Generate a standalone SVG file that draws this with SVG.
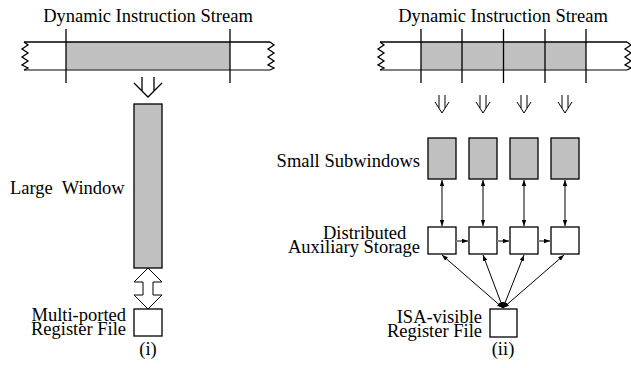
<svg xmlns="http://www.w3.org/2000/svg" width="631" height="368" viewBox="0 0 631 368">
<style>
text{font-family:'Liberation Serif','Times New Roman','DejaVu Serif',serif;font-size:18.5px;fill:#000}
.mid{text-anchor:middle}
.end{text-anchor:end}
.ln{stroke:#000;stroke-width:1.3;fill:none}
.bot{stroke:#555;stroke-width:1.5;fill:none}
.gray{fill:#c0c0c0;stroke:#000;stroke-width:1.3}
.box{fill:#fff;stroke:#000;stroke-width:1.3}
.hollow{fill:#fff;stroke:#000;stroke-width:1}
.garrow{stroke:#808080;stroke-width:2;fill:none}
.fan{stroke:#000;stroke-width:1;fill:none}
</style>
<defs>
<marker id="ah" viewBox="0 0 8 6" refX="8" refY="3" markerWidth="6" markerHeight="5" markerUnits="userSpaceOnUse" orient="auto-start-reverse">
<path d="M0,0 L8,3 L0,6 z" fill="#000"/>
</marker>
</defs>

<g font-family="Liberation Serif, Times New Roman, serif">
<!-- Left panel -->
<g id="stream-left">
<text class="mid" x="148" y="22">Dynamic Instruction Stream</text>
<rect x="66" y="42" width="164" height="28" fill="#c0c0c0"/>
<line class="ln" x1="24" y1="42" x2="270" y2="42"/>
<line class="bot" x1="24" y1="70" x2="270" y2="70"/>
<path class="ln" d="M24,42 L28,45 L22,49 L28,53 L22,57 L28,61 L22,65 L28,68 L24,70"/>
<path class="ln" d="M270,42 L274,45 L268,49 L274,53 L268,57 L274,61 L268,65 L274,68 L270,70"/>
<line class="ln" x1="66" y1="29" x2="66" y2="83"/>
<line class="ln" x1="230" y1="29" x2="230" y2="83"/>
</g>
<g id="large-window">
<rect class="gray" x="134" y="104" width="28" height="164"/>
<text x="10" y="194" style="white-space:pre">Large  Window</text>
</g>
<g id="regfile-left">
<rect class="box" x="134" y="309" width="28" height="27"/>
<text class="end" x="126" y="321">Multi-ported</text>
<text class="end" x="126" y="335">Register File</text>
</g>
<text class="mid" x="148" y="355">(i)</text>

<!-- Right panel -->
<g id="stream-right">
<text class="mid" x="503" y="22">Dynamic Instruction Stream</text>
<rect x="421" y="42" width="165" height="28" fill="#c0c0c0"/>
<line class="ln" x1="380" y1="42" x2="627" y2="42"/>
<line class="bot" x1="380" y1="70" x2="627" y2="70"/>
<path class="ln" d="M380,42 L384,45 L378,49 L384,53 L378,57 L384,61 L378,65 L384,68 L380,70"/>
<path class="ln" d="M627,42 L631,45 L625,49 L631,53 L625,57 L631,61 L625,65 L631,68 L627,70"/>
<line class="ln" x1="421" y1="29" x2="421" y2="83"/>
<line class="ln" x1="462" y1="29" x2="462" y2="83"/>
<line class="ln" x1="503.5" y1="29" x2="503.5" y2="83"/>
<line class="ln" x1="545" y1="29" x2="545" y2="83"/>
<line class="ln" x1="586" y1="29" x2="586" y2="83"/>
</g>
<g id="subwindows">
<rect class="gray" x="428" y="138" width="28" height="41"/>
<rect class="gray" x="469" y="138" width="28" height="41"/>
<rect class="gray" x="510" y="138" width="28" height="41"/>
<rect class="gray" x="551" y="138" width="28" height="41"/>
<text class="end" x="420" y="167">Small Subwindows</text>
</g>
<g id="aux-storage">
<rect class="box" x="428" y="227" width="28" height="27"/>
<rect class="box" x="469" y="227" width="28" height="27"/>
<rect class="box" x="510" y="227" width="28" height="27"/>
<rect class="box" x="551" y="227" width="28" height="27"/>
<text x="323" y="239">Distributed</text>
<text x="288" y="253">Auxiliary Storage</text>
</g>
<g id="regfile-right">
<rect class="box" x="490" y="309" width="27" height="28"/>
<text class="end" x="482" y="323">ISA-visible</text>
<text class="end" x="482" y="337">Register File</text>
</g>
<text class="mid" x="503" y="355">(ii)</text>
</g>

<!-- Connectors -->
<g id="connectors">
<path class="ln" d="M142,77 L142,91 M154,77 L154,91 M134,83 L148,97 L162,83"/>
<path class="hollow" d="M148,268 L134,282 L143,282 L143,295 L134,295 L148,309 L162,295 L153,295 L153,282 L162,282 Z"/>
<path class="fan" d="M439,95 V108 M445,95 V108 M435,102 L442,113 L449,102"/>
<path class="fan" d="M480,95 V108 M486,95 V108 M476,102 L483,113 L490,102"/>
<path class="fan" d="M521,95 V108 M527,95 V108 M517,102 L524,113 L531,102"/>
<path class="fan" d="M562,95 V108 M568,95 V108 M558,102 L565,113 L572,102"/>
<line class="garrow" x1="442" y1="180" x2="442" y2="226" marker-start="url(#ah)" marker-end="url(#ah)"/>
<line class="garrow" x1="483" y1="180" x2="483" y2="226" marker-start="url(#ah)" marker-end="url(#ah)"/>
<line class="garrow" x1="524" y1="180" x2="524" y2="226" marker-start="url(#ah)" marker-end="url(#ah)"/>
<line class="garrow" x1="565" y1="180" x2="565" y2="226" marker-start="url(#ah)" marker-end="url(#ah)"/>
<line class="garrow" x1="456" y1="241" x2="468" y2="241" marker-end="url(#ah)"/>
<line class="garrow" x1="497" y1="241" x2="509" y2="241" marker-end="url(#ah)"/>
<line class="garrow" x1="538" y1="241" x2="550" y2="241" marker-end="url(#ah)"/>
<line class="fan" x1="503" y1="308" x2="442" y2="255" marker-start="url(#ah)" marker-end="url(#ah)"/>
<line class="fan" x1="503" y1="308" x2="483" y2="255" marker-start="url(#ah)" marker-end="url(#ah)"/>
<line class="fan" x1="503" y1="308" x2="524" y2="255" marker-start="url(#ah)" marker-end="url(#ah)"/>
<line class="fan" x1="503" y1="308" x2="564" y2="255" marker-start="url(#ah)" marker-end="url(#ah)"/>
</g>
</svg>
